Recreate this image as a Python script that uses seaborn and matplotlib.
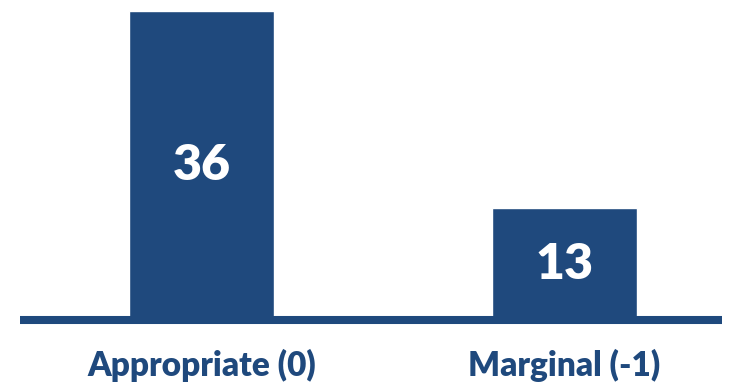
import matplotlib
matplotlib.use("Agg")
import matplotlib.pyplot as plt
import seaborn as sns
import pandas as pd

categories = ['Appropriate (0)', 'Marginal (-1)']
counts = [36, 13]

BLUE = '#1F497D'

sns.set_style('white')
plt.rcParams['font.family'] = ['Lato', 'DejaVu Sans']

df = pd.DataFrame({'Category': categories, 'Count': counts})

fig = plt.figure(figsize=(7.38, 3.88), dpi=100)
ax = fig.add_axes([20 / 738, 68 / 388, 702 / 738, 320 / 388])

sns.barplot(data=df, x='Category', y='Count', color=BLUE, saturation=1,
            width=0.4, ax=ax)

# value labels centred in each bar
for i, v in enumerate(counts):
    ax.text(i, v / 2, str(v), ha='center', va='center', color='white',
            fontsize=36, fontweight='heavy')

ax.set_xlim(-0.5, 1.434)
ax.set_ylim(0, 37.3)
ax.set_xlabel('')
ax.set_ylabel('')
ax.set_yticks([])
ax.tick_params(axis='x', length=0, pad=21, labelsize=24, labelcolor=BLUE)
for lbl in ax.get_xticklabels():
    lbl.set_fontweight('heavy')

for side in ['top', 'left', 'right']:
    ax.spines[side].set_visible(False)
ax.spines['bottom'].set_color(BLUE)
ax.spines['bottom'].set_linewidth(5.8)
ax.spines['bottom'].set_capstyle('butt')
ax.spines['bottom'].set_zorder(5)

fig.savefig('out.png', dpi=100)
plt.close(fig)
